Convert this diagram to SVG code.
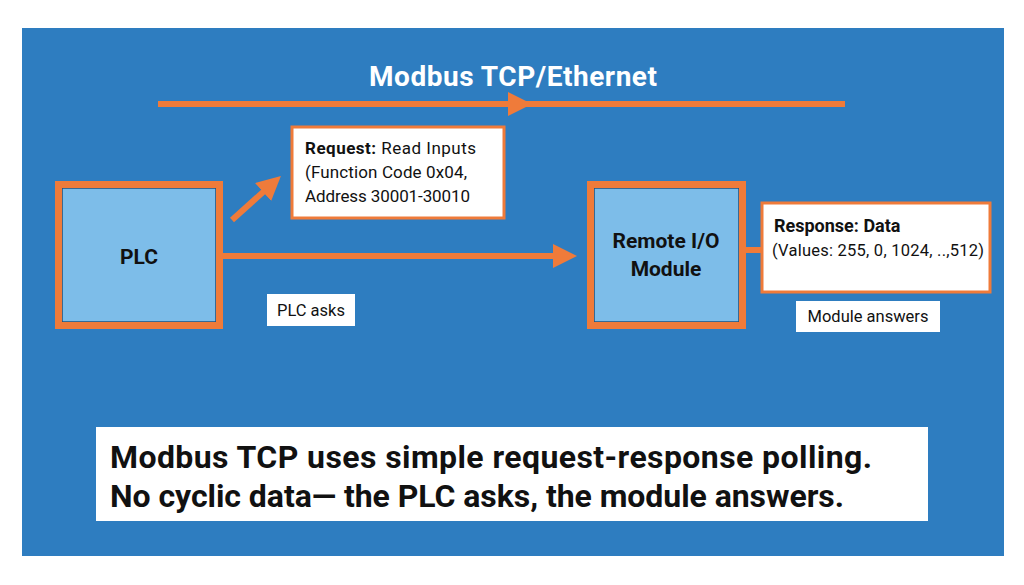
<svg xmlns="http://www.w3.org/2000/svg" width="1024" height="585" viewBox="0 0 1024 585">
<style>
text{font-family:Roboto,"Liberation Sans",sans-serif;fill:#111}
.node{fill:#7dbde9;stroke:#1f4f7a;stroke-width:1.5}
.frame{fill:none;stroke:#ef7b3a;stroke-width:7}
.wbox{fill:#fff;stroke:#ef7b3a;stroke-width:3}
.conn{stroke:#ef7b3a;stroke-width:6;fill:none}
</style>
<defs>
<marker id="ah" viewBox="0 0 10 10" refX="5" refY="5" markerWidth="4" markerHeight="4" orient="auto" markerUnits="strokeWidth"><path d="M0,0L10,5L0,10z" fill="#ef7b3a"/></marker>
</defs>
<rect width="1024" height="585" fill="#fff"/>
<rect x="22" y="28" width="982" height="528" fill="#2e7dc0"/>
<text x="369" y="86" font-size="28" font-weight="bold" textLength="288" style="fill:#fff">Modbus TCP/Ethernet</text>
<g id="connectors">
<line class="conn" x1="158" y1="104" x2="845" y2="104"/>
<path d="M508,92L532,104L508,116z" fill="#ef7b3a"/>
<line class="conn" x1="232" y1="220" x2="272" y2="184" marker-end="url(#ah)"/>
<line class="conn" x1="222" y1="256" x2="565" y2="256" marker-end="url(#ah)"/>
<line class="conn" x1="745" y1="250" x2="762" y2="250"/>
</g>
<g id="plc">
<rect class="node" x="62" y="188" width="154" height="134"/>
<rect class="frame" x="58.500" y="184.500" width="161" height="141"/>
<text x="139" y="264" text-anchor="middle" font-size="21" font-weight="bold">PLC</text>
</g>
<g id="request">
<rect class="wbox" x="292" y="127" width="212" height="91"/>
<text x="305" y="154" font-size="17" textLength="171"><tspan font-weight="bold">Request:</tspan> Read Inputs</text>
<text x="305" y="178" font-size="17" textLength="162">(Function Code 0x04,</text>
<text x="305" y="202" font-size="17" textLength="165">Address 30001-30010</text>
</g>
<g id="remote">
<rect class="node" x="594" y="188" width="145" height="134"/>
<rect class="frame" x="590.500" y="184.500" width="152" height="141"/>
<text x="666" y="248" text-anchor="middle" font-size="21" font-weight="bold">Remote I/O</text>
<text x="666" y="276" text-anchor="middle" font-size="21" font-weight="bold">Module</text>
</g>
<g id="response">
<rect class="wbox" x="762" y="203" width="228" height="89"/>
<text x="774" y="232" font-size="18" font-weight="bold">Response: Data</text>
<text x="772" y="256" font-size="16.5" textLength="212">(Values: 255, 0, 1024, ..,512)</text>
</g>
<g id="plc-asks">
<rect x="267" y="294" width="88" height="32" fill="#fff"/>
<text x="311" y="316" text-anchor="middle" font-size="16.5">PLC asks</text>
</g>
<g id="module-answers">
<rect x="796" y="301" width="144" height="31" fill="#fff"/>
<text x="868" y="322" text-anchor="middle" font-size="16.5">Module answers</text>
</g>
<g id="summary">
<rect x="96" y="427" width="832" height="94" fill="#fff"/>
<text x="110" y="468" font-size="32" font-weight="bold" textLength="762">Modbus TCP uses simple request-response polling.</text>
<text x="110" y="507" font-size="32" font-weight="bold" textLength="734">No cyclic data— the PLC asks, the module answers.</text>
</g>
</svg>
